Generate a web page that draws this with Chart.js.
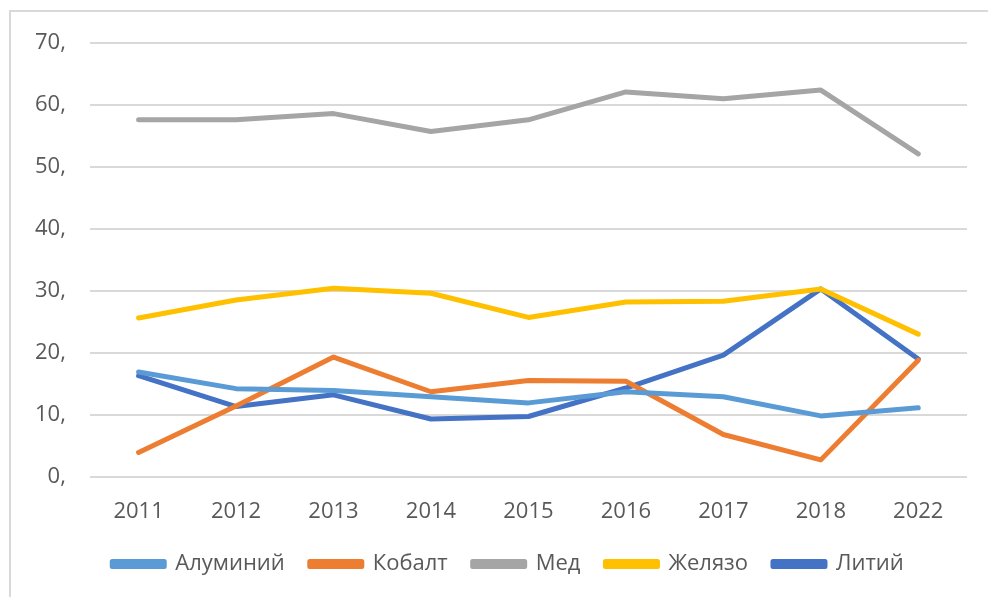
<!DOCTYPE html>
<html>
<head>
<meta charset="utf-8">
<script src="https://cdn.jsdelivr.net/npm/chart.js@4/dist/chart.umd.min.js"></script>
<style>
    html, body { margin: 0; padding: 0; background: #fff; }
    #wrap { position: relative; width: 988px; height: 597px; }
</style>
</head>
<body>
<div id="wrap"><canvas id="metalsChart" width="988" height="597"></canvas></div>
<script>
// Metals chart data
const years = ['2011', '2012', '2013', '2014', '2015', '2016', '2017', '2018', '2022'];
const yTicks = [0, 10, 20, 30, 40, 50, 60, 70];

const aluminium = [16.9, 14.2, 13.9, 12.9, 11.9, 13.7, 12.9, 9.8, 11.1];
const cobalt    = [3.9, 11.4, 19.3, 13.7, 15.5, 15.4, 6.8, 2.7, 18.8];
const copper    = [57.6, 57.6, 58.6, 55.7, 57.6, 62.1, 61.0, 62.4, 52.1];
const iron      = [25.6, 28.5, 30.4, 29.6, 25.7, 28.2, 28.3, 30.3, 23.0];
const lithium   = [16.3, 11.3, 13.2, 9.3, 9.7, 14.3, 19.6, 30.3, 19.0];

const fontFamily = '"Open Sans", "Liberation Sans", sans-serif';
const textColor = '#595959';

// frame lines at top and left like the original picture
const framePlugin = {
    id: 'frame',
    afterLayout(chart) {
        // nudge legend a bit to the right, original is not centred on the plot
        if (chart.legend) {
            chart.legend.left += 19;
            chart.legend.right += 19;
        }
    },
    beforeDraw(chart) {
        const ctx = chart.ctx;
        ctx.save();
        ctx.strokeStyle = '#d9d9d9';
        ctx.lineWidth = 2;
        ctx.beginPath();
        ctx.moveTo(10, 597);
        ctx.lineTo(10, 11);
        ctx.lineTo(988, 11);
        ctx.stroke();
        ctx.restore();
    }
};

function makeSet(label, data, color) {
    return {
        label: label,
        data: data,
        borderColor: color,
        backgroundColor: color,
        borderWidth: 5,
        borderCapStyle: 'round',
        borderJoinStyle: 'round',
        pointRadius: 0,
        tension: 0,
        fill: false
    };
}

const ctx = document.getElementById('metalsChart').getContext('2d');
new Chart(ctx, {
    type: 'line',
    data: {
        labels: years,
        datasets: [
            makeSet('Алуминий', aluminium, '#5b9bd5'),
            makeSet('Кобалт', cobalt, '#ed7d31'),
            makeSet('Мед', copper, '#a5a5a5'),
            makeSet('Желязо', iron, '#ffc000'),
            makeSet('Литий', lithium, '#4472c4')
        ]
    },
    options: {
        responsive: false,
        animation: false,
        layout: { padding: { left: 11, right: 21, top: 43, bottom: 12 } },
        plugins: {
            legend: {
                position: 'bottom',
                labels: {
                    boxWidth: 52,
                    boxHeight: 5,
                    padding: 25,
                    color: textColor,
                    font: { family: fontFamily, size: 22 }
                }
            },
            tooltip: { enabled: false }
        },
        scales: {
            x: {
                offset: true,
                grid: { display: false, drawTicks: false },
                border: { display: false },
                afterFit: function(axis) { axis.height -= 19; },
                ticks: {
                    color: textColor,
                    padding: 22,
                    font: { family: fontFamily, size: 22 }
                }
            },
            y: {
                min: 0,
                max: 70,
                afterBuildTicks: function(axis) {
                    axis.ticks = yTicks.map(v => ({ value: v }));
                },
                grid: { color: '#d9d9d9', lineWidth: 2, drawTicks: false },
                border: { display: false },
                ticks: {
                    color: textColor,
                    padding: 24,
                    font: { family: fontFamily, size: 22 },
                    callback: function(value) { return value + ','; }
                }
            }
        }
    },
    plugins: [framePlugin]
});
</script>
</body>
</html>
